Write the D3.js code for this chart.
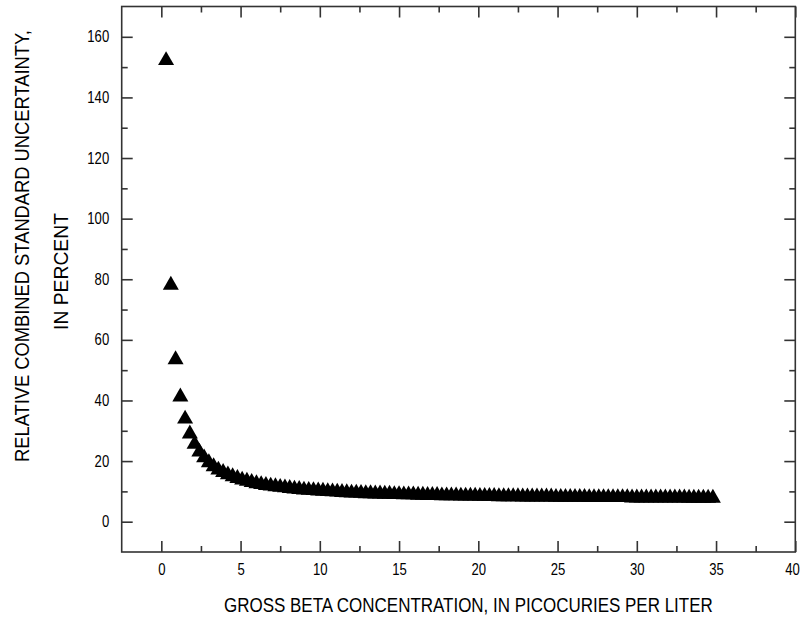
<!DOCTYPE html>
<html><head><meta charset="utf-8">
<script src="https://cdn.jsdelivr.net/npm/d3@7"></script>
<style>
body{margin:0;background:#fff;}
svg text{font-family:'Liberation Sans',Arial,sans-serif;fill:#000;}
</style></head><body>
<svg id="c" width="801" height="620"></svg>
<script>
const concentration = [
0.3,0.6,0.9,1.2,1.5,1.8,2.1,2.4,2.7,3.0,
3.3,3.6,3.9,4.2,4.5,4.8,5.1,5.4,5.7,6.0,
6.3,6.6,6.9,7.2,7.5,7.8,8.1,8.4,8.7,9.0,
9.3,9.6,9.9,10.2,10.5,10.8,11.1,11.4,11.7,12.0,
12.3,12.6,12.9,13.2,13.5,13.8,14.1,14.4,14.7,15.0,
15.3,15.6,15.9,16.2,16.5,16.8,17.1,17.4,17.7,18.0,
18.3,18.6,18.9,19.2,19.5,19.8,20.1,20.4,20.7,21.0,
21.3,21.6,21.9,22.2,22.5,22.8,23.1,23.4,23.7,24.0,
24.3,24.6,24.9,25.2,25.5,25.8,26.1,26.4,26.7,27.0,
27.3,27.6,27.9,28.2,28.5,28.8,29.1,29.4,29.7,30.0,
30.3,30.6,30.9,31.2,31.5,31.8,32.1,32.4,32.7,33.0,
33.3,33.6,33.9,34.2,34.5,34.8];
const uncertainty = [
152.2,78.1,53.5,41.2,33.9,29.0,25.6,23.0,21.1,19.5,
18.2,17.1,16.3,15.5,14.9,14.3,13.8,13.4,13.0,12.6,
12.3,12.0,11.8,11.6,11.4,11.2,11.0,10.8,10.7,10.5,
10.4,10.3,10.2,10.1,10.0,9.9,9.8,9.7,9.6,9.5,
9.5,9.4,9.3,9.3,9.2,9.2,9.1,9.1,9.0,9.0,
8.9,8.9,8.9,8.8,8.8,8.7,8.7,8.7,8.6,8.6,
8.6,8.6,8.5,8.5,8.5,8.5,8.4,8.4,8.4,8.4,
8.3,8.3,8.3,8.3,8.3,8.2,8.2,8.2,8.2,8.2,
8.2,8.2,8.1,8.1,8.1,8.1,8.1,8.1,8.1,8.0,
8.0,8.0,8.0,8.0,8.0,8.0,8.0,8.0,7.9,7.9,
7.9,7.9,7.9,7.9,7.9,7.9,7.9,7.9,7.9,7.9,
7.8,7.8,7.8,7.8,7.8,7.8];
const xMajorTicks = [0,5,10,15,20,25,30,35,40];
const xMinorTicks = [2.5,7.5,12.5,17.5,22.5,27.5,32.5,37.5];
const yMajorTicks = [0,20,40,60,80,100,120,140,160];
const yMinorTicks = [10,30,50,70,90,110,130,150];
const xTitle = "GROSS BETA CONCENTRATION, IN PICOCURIES PER LITER";
const yTitleLines = ["RELATIVE COMBINED STANDARD UNCERTAINTY,", "IN PERCENT"];

const L = 121.7, R = 795.3, T = 6.5, B = 552;
const x = d3.scaleLinear().domain([-2.5, 40]).range([L, R]);
const y = d3.scaleLinear().domain([-10, 170]).range([B, T]);
const svg = d3.select("#c");
svg.append("rect").attr("width",801).attr("height",620).attr("fill","#fff");

const axisColor = "#333", axisW = 1.6, major = 11, minor = 6;
const SX = 0.82; // horizontal condensing of the font
function styleAxis(g){
  g.select(".domain").remove();
  g.selectAll(".tick line").attr("stroke",axisColor).attr("stroke-width",axisW);
  g.selectAll(".tick text").attr("font-size","16px").attr("fill","#000")
    .each(function(){
      const t = d3.select(this);
      const x0 = +t.attr("x") || 0;
      t.attr("x", x0 / SX).attr("transform", `scale(${SX},1)`);
    });
}
// bottom
svg.append("g").attr("transform",`translate(0,${B})`)
  .call(d3.axisBottom(x).tickValues(xMajorTicks).tickSizeInner(-major).tickSizeOuter(0).tickPadding(11.5).tickFormat(d3.format("d")))
  .call(styleAxis)
  .call(g=>g.selectAll(".tick text").filter(d=>d===40).attr("dx",-4));
svg.append("g").attr("transform",`translate(0,${B})`)
  .call(d3.axisBottom(x).tickValues(xMinorTicks).tickSizeInner(-minor).tickSizeOuter(0).tickFormat(""))
  .call(styleAxis);
// top
svg.append("g").attr("transform",`translate(0,${T})`)
  .call(d3.axisTop(x).tickValues(xMajorTicks).tickSizeInner(-major).tickSizeOuter(0).tickFormat(""))
  .call(styleAxis);
svg.append("g").attr("transform",`translate(0,${T})`)
  .call(d3.axisTop(x).tickValues(xMinorTicks).tickSizeInner(-minor).tickSizeOuter(0).tickFormat(""))
  .call(styleAxis);
// left
svg.append("g").attr("transform",`translate(${L},0)`)
  .call(d3.axisLeft(y).tickValues(yMajorTicks).tickSizeInner(-major).tickSizeOuter(0).tickPadding(12.5).tickFormat(d3.format("d")))
  .call(styleAxis);
svg.append("g").attr("transform",`translate(${L},0)`)
  .call(d3.axisLeft(y).tickValues(yMinorTicks).tickSizeInner(-minor).tickSizeOuter(0).tickFormat(""))
  .call(styleAxis);
// right
svg.append("g").attr("transform",`translate(${R},0)`)
  .call(d3.axisRight(y).tickValues(yMajorTicks).tickSizeInner(-major).tickSizeOuter(0).tickFormat(""))
  .call(styleAxis);
svg.append("g").attr("transform",`translate(${R},0)`)
  .call(d3.axisRight(y).tickValues(yMinorTicks).tickSizeInner(-minor).tickSizeOuter(0).tickFormat(""))
  .call(styleAxis);

// frame
svg.append("rect").attr("x",L).attr("y",T).attr("width",R-L).attr("height",B-T)
  .attr("fill","none").attr("stroke",axisColor).attr("stroke-width",axisW);

// points
const tri = d3.symbol(d3.symbolTriangle, 111);
svg.append("g").selectAll("path").data(concentration.map((c,i)=>[c,uncertainty[i]]))
  .join("path").attr("d",tri)
  .attr("transform",d=>`translate(${x(d[0])},${y(d[1])})`)
  .attr("fill","#000");

// titles: condensed to the target width with a real scale transform
function fitText(g, str, width, anchor){
  const t = g.append("text").attr("font-size","20.5px").attr("text-anchor",anchor).text(str);
  const w = t.node().getComputedTextLength();
  t.attr("transform", `scale(${width / w},1)`);
  return t;
}
fitText(svg.append("g").attr("transform","translate(224,612)"), xTitle, 489, "start");
fitText(svg.append("g").attr("transform","translate(28.5,462) rotate(-90)"), yTitleLines[0], 432, "start");
fitText(svg.append("g").attr("transform","translate(68.3,271.5) rotate(-90)"), yTitleLines[1], 117, "middle");
</script>
</body></html>
